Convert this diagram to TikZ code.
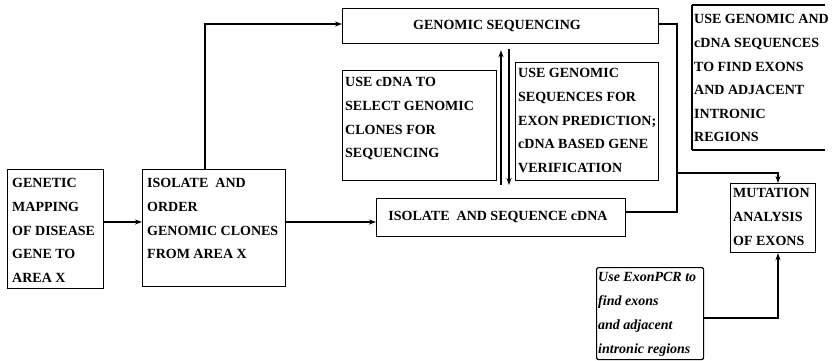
\documentclass[tikz,border=0pt]{standalone}
\usepackage{fontspec}
\setmainfont{Liberation Serif}
\usetikzlibrary{arrows.meta,calc}
\begin{document}
\begin{tikzpicture}[x=1pt,y=-1pt,
  box/.style={draw,line width=1.2pt,inner sep=0pt},
  txt/.style={anchor=north west,align=left,inner sep=0pt,font=\bfseries\fontsize{14}{23.6}\selectfont},
  ctxt/.style={inner sep=0pt,font=\bfseries\fontsize{14}{23.6}\selectfont},
  conn/.style={line width=1.1pt},
  arr/.style={conn,-{Stealth[length=7pt,width=5pt]}}]
\useasboundingbox (0,0) rectangle (835,360);
% boxes
\node[box,minimum width=96,minimum height=119,anchor=north west] (gen) at (7,169) {};
\node[txt] (gent) at (12,178.5) {GENETIC\\MAPPING\\OF DISEASE\\GENE TO\\AREA X};
\node[box,minimum width=143,minimum height=117,anchor=north west] (iso) at (142,169) {};
\node[txt] (isot) at (147,178.5) {ISOLATE\ \ AND\\ORDER\\GENOMIC CLONES\\FROM AREA X};
\node[box,minimum width=316,minimum height=35,anchor=north west] (gs) at (342,8) {};
\node[ctxt] (gst) at (497,26) {GENOMIC SEQUENCING};
\node[box,minimum width=154,minimum height=110,anchor=north west] (ucd) at (342,70) {};
\node[txt] (ucdt) at (345,77.5) {USE cDNA TO\\SELECT GENOMIC\\CLONES FOR\\SEQUENCING};
\node[box,minimum width=143,minimum height=118,anchor=north west] (ugs) at (515,62) {};
\node[txt] (ugst) at (518,68.5) {USE GENOMIC\\SEQUENCES FOR\\EXON PREDICTION;\\cDNA BASED GENE\\VERIFICATION};
\node[box,minimum width=249,minimum height=38,anchor=north west] (cdna) at (376,198) {};
\node[ctxt] (cdnat) at (498,217) {ISOLATE\ \ AND SEQUENCE cDNA};
\draw[line width=1.2pt] (692,5) -- (825,5);
\draw[line width=1.2pt] (692,5) -- (692,150);
\draw[line width=1.2pt] (692,150) -- (825,150);
\node[txt] (findt) at (694,14.5) {USE GENOMIC AND\\cDNA SEQUENCES\\TO FIND EXONS\\AND ADJACENT\\INTRONIC\\REGIONS};
\node[box,minimum width=85,minimum height=69,anchor=north west] (mut) at (730,183) {};
\node[txt] (mutt) at (733,188.5) {MUTATION\\ANALYSIS\\OF EXONS};
\node[box,rounded corners=2pt,minimum width=107,minimum height=92,anchor=north west] (pcr) at (596,267) {};
\node[txt,font=\bfseries\itshape\fontsize{14}{24}\selectfont] (pcrt) at (598,272) {Use ExonPCR to\\find exons\\and adjacent\\intronic regions};
% connectors
\draw[arr] (gen.east |- 0,222) -- (iso.west |- 0,222);
\draw[arr] (iso.east |- 0,222) -- (cdna.west |- 0,222);
\draw[arr] (iso.north -| 205,0) |- (gs.west |- 0,24);
\draw[arr] (cdna.north -| 501,0) ++(0,-13) -- ($(gs.south -| 501,0)+(0,6)$);
\draw[arr] ($(gs.south -| 509,0)+(0,5)$) -- ($(cdna.north -| 509,0)+(0,-13)$);
\coordinate (bend) at (677,173);
\draw[conn] (gs.east |- 0,24) -| (bend) |- (cdna.east |- 0,212);
\draw[arr] (bend) -| (mut.north -| 778,0);
\draw[arr] (pcr.east |- 0,318) -| (mut.south -| 778,0);
\end{tikzpicture}
\end{document}
